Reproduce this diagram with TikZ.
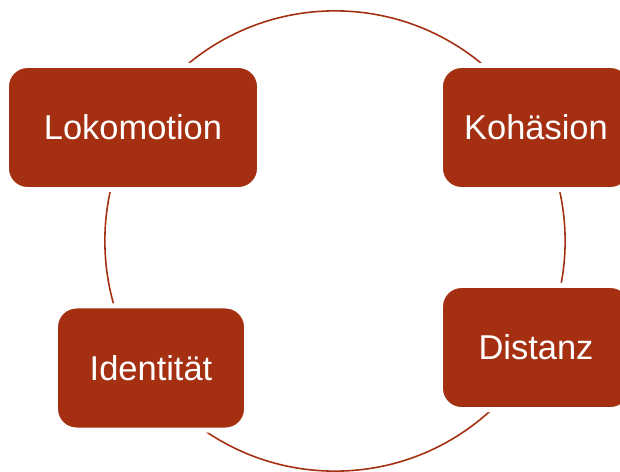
\documentclass[tikz,border=0pt]{standalone}
\usepackage{fontspec}
\setmainfont{Liberation Sans}
\usepackage{xcolor}
\definecolor{rust}{RGB}{164,48,17}

\begin{document}
\begin{tikzpicture}[
    x=0.01cm, y=-0.01cm,
    dim/.style={draw=white, line width=0.05cm, fill=rust, rounded corners=0.21cm, minimum height=1.24cm, text=white, font=\fontsize{9.8}{12}\selectfont, inner sep=0pt},
    ring/.style={draw=rust, line width=0.45pt}
]
\useasboundingbox (0,0) rectangle (620,472);
\clip (0,0) rectangle (620,472);

\coordinate (mid) at (335,241);
\draw[ring] (mid) circle (2.30cm);

\node[dim, minimum width=2.53cm] (loko) at (133,127.5) {Lokomotion};
\node[dim, minimum width=1.91cm] (kohae) at (536,127.5) {Kohäsion};
\node[dim, minimum width=1.91cm] (dist) at (536,347.5) {Distanz};
\node[dim, minimum width=1.91cm] (ident) at (151,368) {Identität};
\end{tikzpicture}
\end{document}
